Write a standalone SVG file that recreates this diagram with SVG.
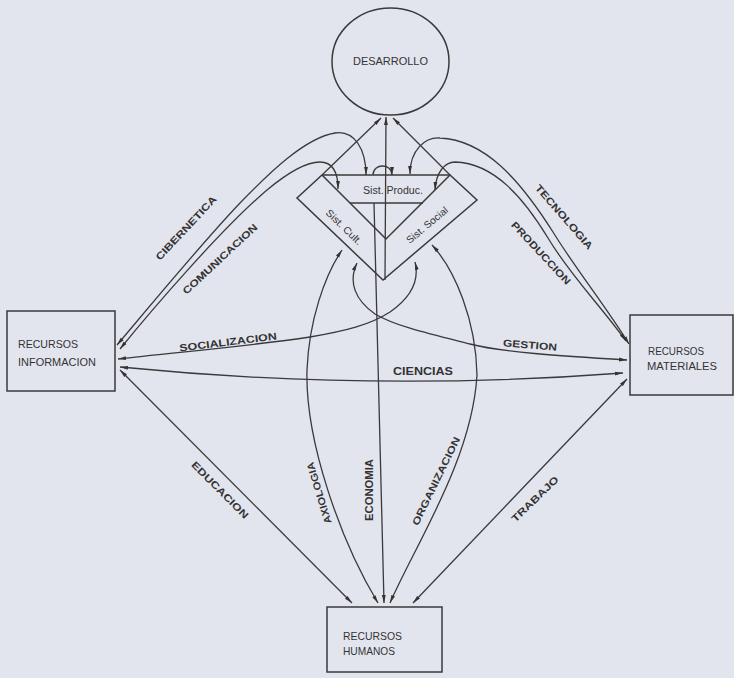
<svg xmlns="http://www.w3.org/2000/svg" width="734" height="678" viewBox="0 0 734 678">
<defs>
<marker id="ah" viewBox="0 0 10 6" refX="10" refY="3" markerWidth="8" markerHeight="5" markerUnits="userSpaceOnUse" orient="auto-start-reverse">
<path d="M0,0.6 L10,3 L0,5.4 Z" fill="#333"/>
</marker>
<style>
.bg{fill:#e3e5ee}
.box{fill:none;stroke:#3a3a3a;stroke-width:1.5}
.ln{fill:none;stroke:#3a3a3a;stroke-width:1.3}
.bi{marker-start:url(#ah);marker-end:url(#ah)}
.e{marker-end:url(#ah)}
.lab{font-family:"Liberation Sans",Arial,sans-serif;font-size:10px;font-weight:bold;fill:#333;text-anchor:middle;dominant-baseline:central}
.nt{font-family:"Liberation Sans",Arial,sans-serif;font-size:11px;fill:#333}
.st{font-family:"Liberation Sans",Arial,sans-serif;font-size:10px;fill:#333;text-anchor:middle;dominant-baseline:central}
</style>
</defs>
<rect class="bg" x="0" y="0" width="734" height="678"/>

<g id="desarrollo">
<ellipse class="box" cx="390.5" cy="61.5" rx="58.5" ry="53.5"/>
<text class="nt" x="353" y="65" textLength="75" lengthAdjust="spacingAndGlyphs">DESARROLLO</text>
</g>

<g id="sistemas">
<polygon class="box" points="322,175 450,175 477,200 383,280 297,198"/>
<polyline class="box" points="322,175 386,239 450,175"/>
<line class="box" x1="350" y1="203" x2="423" y2="203"/>
<text class="st" x="393" y="190" textLength="60" lengthAdjust="spacingAndGlyphs">Sist. Produc.</text>
<text class="st" transform="translate(344,227) rotate(44)" x="0" y="0" textLength="46" lengthAdjust="spacingAndGlyphs">Sist. Cult.</text>
<text class="st" transform="translate(427,225) rotate(-40)" x="0" y="0" textLength="51" lengthAdjust="spacingAndGlyphs">Sist. Social</text>
</g>

<g id="recursos-informacion">
<rect class="box" x="7" y="311" width="108" height="80"/>
<text class="nt" x="18" y="348" textLength="60" lengthAdjust="spacingAndGlyphs">RECURSOS</text>
<text class="nt" x="18" y="366" textLength="78" lengthAdjust="spacingAndGlyphs">INFORMACION</text>
</g>

<g id="recursos-materiales">
<rect class="box" x="630" y="315" width="103" height="80"/>
<text class="nt" x="648" y="355" textLength="56" lengthAdjust="spacingAndGlyphs">RECURSOS</text>
<text class="nt" x="647" y="370" textLength="70" lengthAdjust="spacingAndGlyphs">MATERIALES</text>
</g>

<g id="recursos-humanos">
<rect class="box" x="327" y="607" width="115" height="65"/>
<text class="nt" x="343" y="640" textLength="59" lengthAdjust="spacingAndGlyphs">RECURSOS</text>
<text class="nt" x="343" y="655" textLength="52" lengthAdjust="spacingAndGlyphs">HUMANOS</text>
</g>

<g id="connectors">
<line class="ln e" x1="322" y1="175" x2="381" y2="118"/>
<line class="ln e" x1="450" y1="175" x2="393" y2="118"/>
<line class="ln e" x1="385" y1="280" x2="386" y2="117"/>
<path class="ln e" d="M373,175 C373,163 392,163 392,175"/>
<path class="ln bi" d="M117,345 C140,318 200,245 240,203 C270,172 305,138 335,133 C355,130 366,150 366,175"/>
<path class="ln bi" d="M120,349 C150,312 220,230 267,190 C285,175 305,162 320,162 C333,162 338,172 338,189"/>
<path class="ln bi" d="M410,174 C410,150 425,137 440,138 C485,140 520,180 553,232 C575,268 605,305 629,344"/>
<path class="ln bi" d="M435,190 C436,172 445,162 455,162 C495,163 525,200 548,238 C570,275 600,305 626,341"/>
<path class="ln bi" d="M118,359 C180,352 250,346 310,337 C345,331 370,325 390,312 C410,298 420,282 415,262"/>
<path class="ln bi" d="M627,360 C560,356 500,352 470,344 C430,334 395,326 375,314 C355,300 348,282 357,263"/>
<path class="ln bi" d="M120,367 Q372,392 623,373"/>
<line class="ln bi" x1="120" y1="370" x2="352" y2="603"/>
<line class="ln bi" x1="627" y1="379" x2="413" y2="603"/>
<line class="ln e" x1="374" y1="203" x2="384" y2="603"/>
<path class="ln bi" d="M378,603 C340,540 305,440 307,370 C309,320 325,275 342,250"/>
<path class="ln bi" d="M390,603 C415,545 472,460 477,375 C476,320 455,270 432,245"/>
</g>

<g id="labels">
<text class="lab" transform="translate(186,228) rotate(-47)" textLength="84" lengthAdjust="spacingAndGlyphs">CIBERNETICA</text>
<text class="lab" transform="translate(220,259) rotate(-43)" textLength="98" lengthAdjust="spacingAndGlyphs">COMUNICACION</text>
<text class="lab" transform="translate(564,217) rotate(49)" textLength="82" lengthAdjust="spacingAndGlyphs">TECNOLOGIA</text>
<text class="lab" transform="translate(541,253) rotate(47)" textLength="82" lengthAdjust="spacingAndGlyphs">PRODUCCION</text>
<text class="lab" transform="translate(228,342) rotate(-7)" textLength="98" lengthAdjust="spacingAndGlyphs">SOCIALIZACION</text>
<text class="lab" transform="translate(530,345) rotate(5)" textLength="54" lengthAdjust="spacingAndGlyphs">GESTION</text>
<text class="lab" transform="translate(423,371)" textLength="60" lengthAdjust="spacingAndGlyphs">CIENCIAS</text>
<text class="lab" transform="translate(220,490) rotate(45)" textLength="76" lengthAdjust="spacingAndGlyphs">EDUCACION</text>
<text class="lab" transform="translate(319,493) rotate(-107)" textLength="64" lengthAdjust="spacingAndGlyphs">AXIOLOGIA</text>
<text class="lab" transform="translate(369,490) rotate(-90)" textLength="62" lengthAdjust="spacingAndGlyphs">ECONOMIA</text>
<text class="lab" transform="translate(436,481) rotate(-64)" textLength="97" lengthAdjust="spacingAndGlyphs">ORGANIZACION</text>
<text class="lab" transform="translate(535,499) rotate(-44)" textLength="61" lengthAdjust="spacingAndGlyphs">TRABAJO</text>
</g>
</svg>
